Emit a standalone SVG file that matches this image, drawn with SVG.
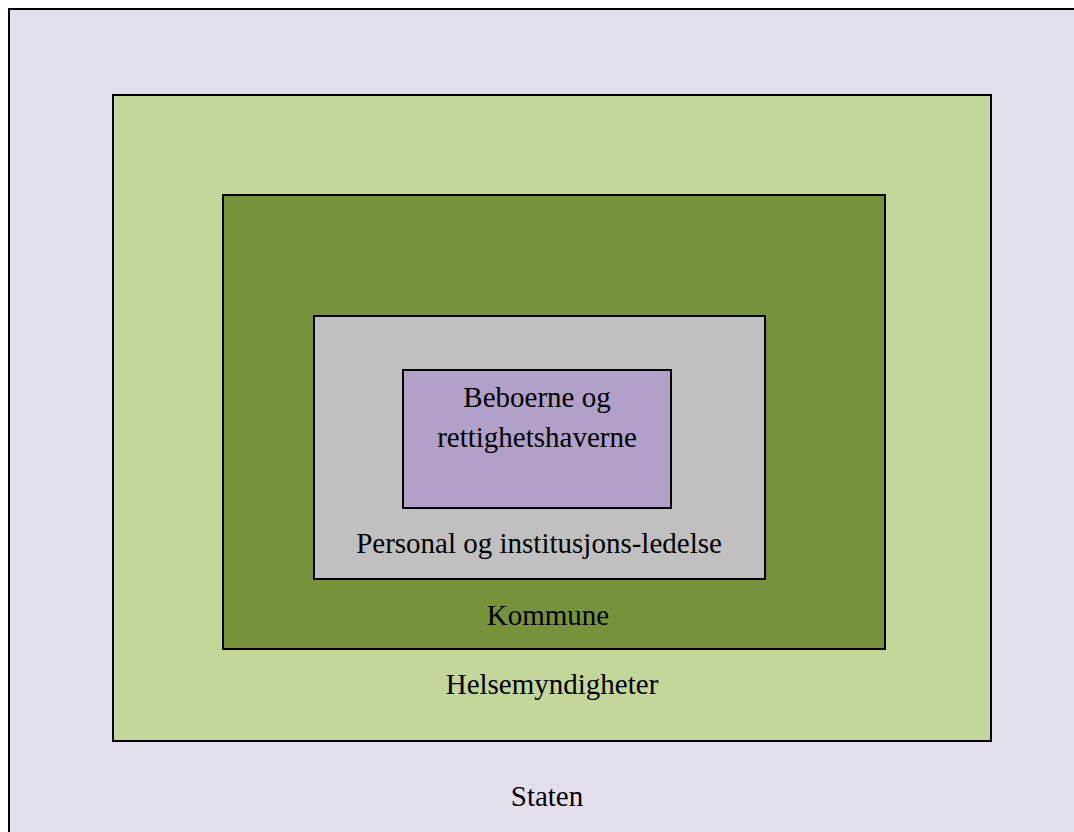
<svg xmlns="http://www.w3.org/2000/svg" width="1074" height="832" viewBox="0 0 1074 832">
<style>
  .box { stroke: #000; stroke-width: 2; }
  .lbl { font-family: "Liberation Serif", "Times New Roman", serif; font-size: 29px; fill: #000; text-anchor: middle; }
</style>
<rect x="0" y="0" width="1074" height="832" fill="#ffffff"/>
<g id="staten">
  <rect class="box" x="9" y="9" width="1080" height="840" fill="#E4DFEC"/>
  <text class="lbl" x="547" y="806">Staten</text>
</g>
<g id="helsemyndigheter">
  <rect class="box" x="113" y="95" width="878" height="646" fill="#C4D79B"/>
  <text class="lbl" x="552" y="694">Helsemyndigheter</text>
</g>
<g id="kommune">
  <rect class="box" x="223" y="195" width="662" height="454" fill="#76933C"/>
  <text class="lbl" x="548" y="625">Kommune</text>
</g>
<g id="personal">
  <rect class="box" x="314" y="316" width="451" height="263" fill="#C0C0C0"/>
  <text class="lbl" x="539" y="553">Personal og institusjons-ledelse</text>
</g>
<g id="beboerne">
  <rect class="box" x="403" y="370" width="268" height="138" fill="#B1A0C7"/>
  <text class="lbl" x="537" y="407">Beboerne og</text>
  <text class="lbl" x="537" y="447">rettighetshaverne</text>
</g>
<g id="connectors"></g>
</svg>
